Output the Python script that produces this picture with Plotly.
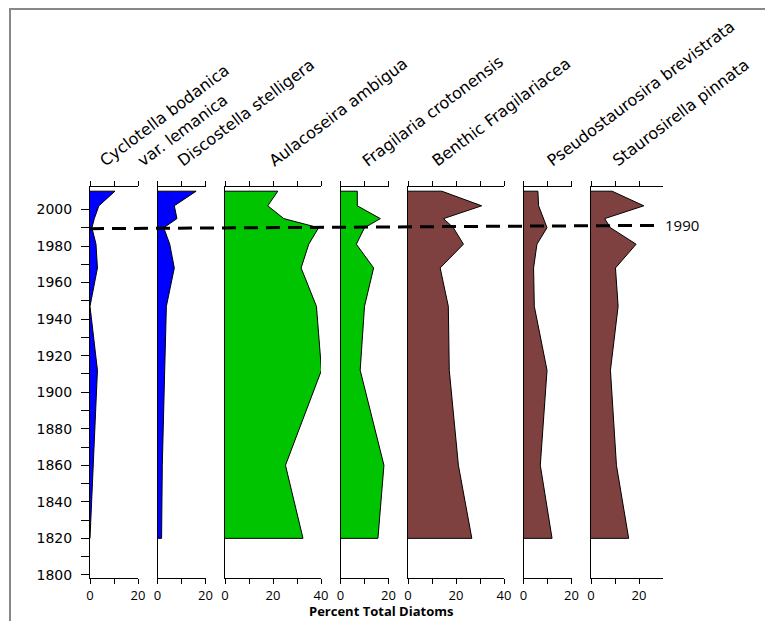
import plotly.graph_objects as go

# ---------------- data ----------------
years = [2010, 2002, 1995, 1990, 1981, 1968, 1947, 1912, 1860, 1820]

cyclotella = [10.4, 3.7, 1.8, 0.8, 2.5, 3.1, 0.0, 3.1, 1.5, 0.3]
discostella = [16.1, 7.0, 8.1, 2.6, 5.1, 7.0, 3.7, 3.0, 2.0, 1.7]
aulacoseira = [22.0, 17.8, 24.5, 39.0, 34.9, 31.7, 38.1, 40.2, 25.2, 32.5]
fragilaria = [7.0, 7.0, 16.6, 10.0, 6.6, 13.8, 10.0, 8.2, 18.1, 15.6]
benthic = [14.1, 30.7, 14.8, 18.9, 23.1, 13.4, 16.8, 17.2, 21.0, 26.6]
pseudostaurosira = [6.0, 6.3, 8.5, 9.8, 5.6, 4.2, 4.5, 9.8, 7.0, 11.9]
staurosirella = [8.8, 22.0, 5.7, 8.1, 18.8, 10.2, 11.3, 8.1, 10.6, 15.7]

series = [cyclotella, discostella, aulacoseira, fragilaria, benthic,
          pseudostaurosira, staurosirella]
panel_max = [20, 20, 40, 20, 40, 20, 30]
panel_ticks = [[0, 10, 20], [0, 10, 20], [0, 10, 20, 30, 40], [0, 10, 20],
               [0, 10, 20, 30, 40], [0, 10, 20], [0, 10, 20]]
panel_labels = [["Cyclotella bodanica", "var. lemanica"],
                ["Discostella stelligera"], ["Aulacoseira ambigua"],
                ["Fragilaria crotonensis"], ["Benthic Fragilariacea"],
                ["Pseudostaurosira brevistrata"], ["Staurosirella pinnata"]]
year_ticks = list(range(1800, 2001, 10))
year_labels = [str(y) if y % 20 == 0 else "" for y in year_ticks]
marker_year = "1990"
marker_span = [1989.5, 1991.3]

# ---------------- styles ----------------
BLUE, GREEN, BROWN = "#0000FF", "#00C400", "#7F4040"
colors = [BLUE, BLUE, GREEN, GREEN, BROWN, BROWN, BROWN]
label_offsets = [[10, 48], [21], [44], [22], [24], [24], [22]]

W, H = 773, 621
OFF = 8  # page body margin: figure is drawn 8px right/down of the screenshot origin
# target plot area on screen: x 90..663, y 187..578
ml = 90 - OFF
mr = W - (663 - OFF)
mt = 187 - OFF
mb = H - (578 - OFF)
pw = W - ml - mr
ph = H - mt - mb
ppu = 2.4
gap = (pw - sum(panel_max) * ppu) / (len(panel_max) - 1)

domains = []
pos = 0.0
for r in panel_max:
    w = r * ppu
    domains.append([max(0.0, pos / pw), min(1.0, (pos + w) / pw)])
    pos += w + gap

yrange = [1798.3, 2012.3]

fig = go.Figure()
layout = dict(
    width=W, height=H,
    margin=dict(l=ml, r=mr, t=mt, b=mb),
    plot_bgcolor="white", paper_bgcolor="white",
    showlegend=False,
)

for i, vals in enumerate(series):
    k = i + 1
    xs = "" if k == 1 else str(k)
    fig.add_trace(go.Scatter(
        x=[0] + vals + [0],
        y=[years[0]] + years + [years[-1]],
        mode="lines", fill="toself", fillcolor=colors[i],
        line=dict(color="black", width=1),
        xaxis="x" + xs, yaxis="y" + xs, hoverinfo="skip",
    ))
    layout["xaxis" + xs] = dict(
        domain=domains[i], range=[0, panel_max[i]], anchor="y" + xs,
        tickmode="array", tickvals=panel_ticks[i],
        ticktext=[str(v) if v % 20 == 0 else "" for v in panel_ticks[i]],
        showline=True, linecolor="black", linewidth=1, mirror="ticks",
        ticks="outside", ticklen=5, tickcolor="black", tickwidth=1,
        showgrid=False, zeroline=False,
        tickfont=dict(family="Open Sans", size=13, color="black"),
    )
    ya = dict(
        domain=[0, 1], range=yrange, anchor="x" + xs,
        showline=True, linecolor="black", linewidth=1,
        showgrid=False, zeroline=False,
    )
    if k == 1:
        ya.update(tickmode="array", tickvals=year_ticks, ticktext=year_labels,
                  ticks="outside", ticklen=8, tickcolor="black", tickwidth=1,
                  ticklabelstandoff=6,
                  tickfont=dict(family="DejaVu Sans", size=14, color="black"))
    else:
        ya.update(matches="y", ticks="", showticklabels=False)
    layout["yaxis" + xs] = ya

fig.update_layout(**layout)


def px_to_paper_x(px):
    """screen pixel x -> paper coordinate"""
    return (px - OFF - ml) / pw


def py_to_paper_y(py):
    """screen pixel y -> paper coordinate"""
    return (H - mb - (py - OFF)) / ph


annotations = []
for i, labs in enumerate(panel_labels):
    left_px = ml + OFF + domains[i][0] * pw
    for lab, off in zip(labs, label_offsets[i]):
        annotations.append(dict(
            text=lab, xref="paper", yref="paper",
            x=px_to_paper_x(left_px + off - 7), y=py_to_paper_y(173),
            xanchor="left", yanchor="bottom", textangle=-37, showarrow=False,
            font=dict(family="DejaVu Sans", size=16, color="black"),
        ))

annotations.append(dict(
    text=marker_year, xref="paper", yref="y",
    x=domains[-1][1], y=marker_span[1], xanchor="left", yanchor="middle",
    showarrow=False, font=dict(family="Open Sans", size=15, color="black"),
))
annotations.append(dict(
    text="<b>Percent Total Diatoms</b>", xref="paper", yref="paper",
    x=px_to_paper_x(380.5), y=py_to_paper_y(611), xanchor="center",
    yanchor="middle", showarrow=False,
    font=dict(family="Open Sans", size=13, color="black"),
))

shapes = [
    dict(type="line", xref="paper", yref="y",
         x0=domains[0][0], x1=domains[-1][1] - 5 / pw,
         y0=marker_span[0], y1=marker_span[1],
         line=dict(color="black", width=3, dash="14px,8px"), layer="above"),
    dict(type="rect", xref="paper", yref="paper",
         x0=px_to_paper_x(10), x1=px_to_paper_x(W + 40),
         y0=py_to_paper_y(H + 40), y1=py_to_paper_y(OFF + 1),
         line=dict(color="#888888", width=2), fillcolor="rgba(0,0,0,0)",
         layer="above"),
]

fig.update_layout(annotations=annotations, shapes=shapes)
fig.write_html("out.html")
